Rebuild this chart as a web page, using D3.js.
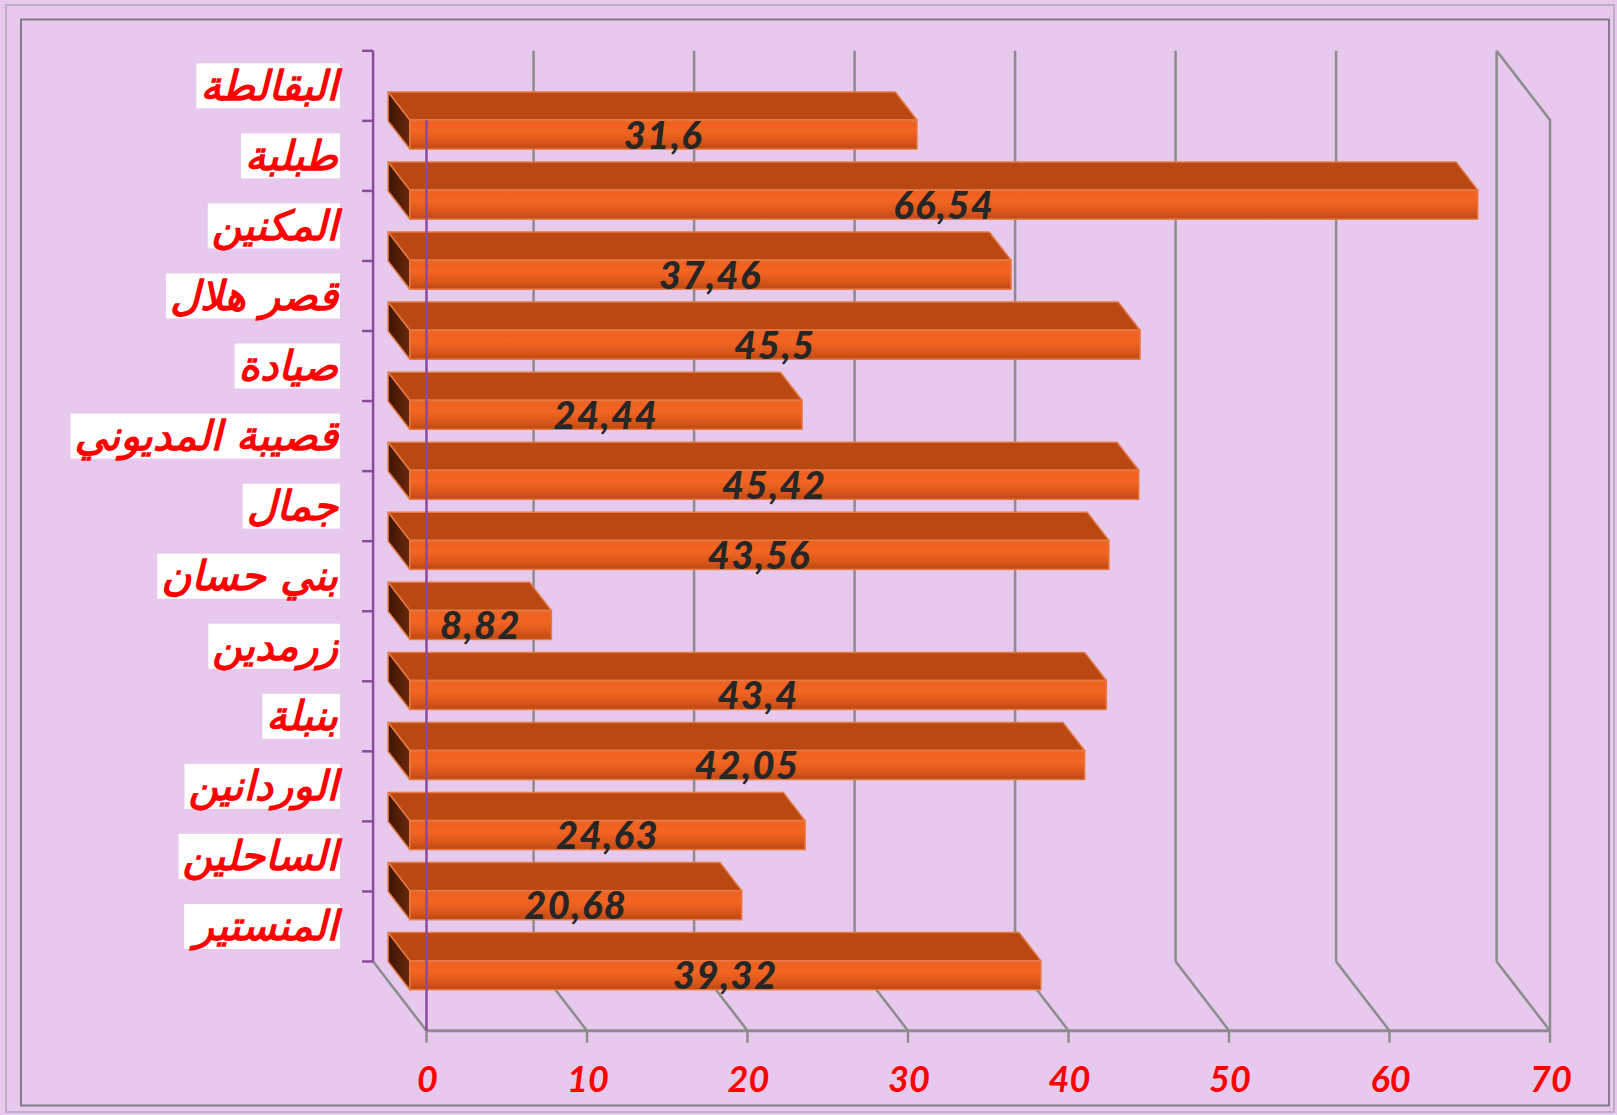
<!DOCTYPE html>
<html>
<head>
<meta charset="utf-8">
<script src="https://cdn.jsdelivr.net/npm/d3@7"></script>
<style>
  html, body { margin: 0; padding: 0; background: #E6C9EC; }
  svg { display: block; }
</style>
</head>
<body>
<svg id="chart" width="1617" height="1115"></svg>
<script>
// ---- data ----
const categories = ["البقالطة", "طبلبة", "المكنين", "قصر هلال", "صيادة", "قصيبة المديوني", "جمال", "بني حسان", "زرمدين", "بنبلة", "الوردانين", "الساحلين", "المنستير"];
const values = [31.6, 66.54, 37.46, 45.5, 24.44, 45.42, 43.56, 8.82, 43.4, 42.05, 24.63, 20.68, 39.32];
const xTicks = [0, 10, 20, 30, 40, 50, 60, 70];
const xTickLabels = ["0", "10", "20", "30", "40", "50", "60", "70"];

// ---- layout ----
const W = 1617, H = 1115;
const svg = d3.select("#chart");
const DX = -53.4, DY = -69.2;           // depth offset (front -> back)
const D1 = 0.313, D2 = 0.719;           // bar depth range
const x = d3.scaleLinear().domain([0, 70]).range([426.5, 1550]);
const y = d3.scaleBand().domain(categories).range([120, 1030.7]).paddingInner(0).paddingOuter(0);
const bw = y.bandwidth();
const barOff = 0.31 * bw, barH = 0.414 * bw;
const P = (v, yc, d) => [x(v) + DX * d, yc + DY * d];
const yTop = y.range()[0], yBot = y.range()[1];

const defs = svg.append("defs");
const gFront = defs.append("linearGradient").attr("id", "gFront").attr("x1", 0).attr("y1", 0).attr("x2", 0).attr("y2", 1);
[[0, "#e86a30"], [0.12, "#f06120"], [0.4, "#f26522"], [0.75, "#d9561b"], [1, "#bd4712"]].forEach(([o, c]) =>
  gFront.append("stop").attr("offset", o).attr("stop-color", c));
const gEnd = defs.append("linearGradient").attr("id", "gEnd").attr("x1", 0).attr("y1", 0).attr("x2", 1).attr("y2", 0);
[[0, "#3f1404"], [1, "#6a280b"]].forEach(([o, c]) => gEnd.append("stop").attr("offset", o).attr("stop-color", c));

// background + frames
svg.append("rect").attr("x", 0).attr("y", 0).attr("width", W).attr("height", H).attr("fill", "#E6C9EC");
svg.append("rect").attr("x", 6).attr("y", 5).attr("width", 1608).attr("height", 1107)
  .attr("fill", "none").attr("stroke", "#b0a6b4").attr("stroke-width", 1.5);
svg.append("rect").attr("x", 21).attr("y", 19.5).attr("width", 1588).attr("height", 1086)
  .attr("fill", "none").attr("stroke", "#857a8c").attr("stroke-width", 2);

const grid = "#8c8c8c";
const line = d3.line();
// back-wall gridlines
xTicks.filter(v => v > 0).forEach(v => {
  svg.append("path").attr("d", line([P(v, yTop, 1), P(v, yBot, 1)]))
    .attr("stroke", grid).attr("stroke-width", 2.5).attr("fill", "none");
});
// floor diagonals
xTicks.forEach(v => {
  svg.append("path").attr("d", line([P(v, yBot, 1), P(v, yBot, 0)]))
    .attr("stroke", grid).attr("stroke-width", 2.5).attr("fill", "none");
});
// right side edge
svg.append("path").attr("d", line([P(70, yTop, 1), P(70, yTop, 0), P(70, yBot, 0)]))
  .attr("stroke", grid).attr("stroke-width", 2.5).attr("fill", "none");
// front baseline + ticks
svg.append("path").attr("d", line([P(0, yBot, 0), P(70, yBot, 0)]))
  .attr("stroke", grid).attr("stroke-width", 3).attr("fill", "none");
xTicks.forEach(v => {
  svg.append("path").attr("d", line([[x(v), yBot], [x(v), yBot + 12]]))
    .attr("stroke", grid).attr("stroke-width", 2.5).attr("fill", "none");
});

// back vertical axis (purple) with category ticks
const purple = "#8a4a9e";
svg.append("path").attr("d", line([P(0, yTop, 1), P(0, yBot, 1)]))
  .attr("stroke", purple).attr("stroke-width", 2.5).attr("fill", "none");
const bounds = categories.map(c => y(c)).concat([yBot]);
bounds.forEach(b => {
  const p = P(0, b, 1);
  svg.append("path").attr("d", line([[p[0] - 11, p[1]], p]))
    .attr("stroke", purple).attr("stroke-width", 2.5).attr("fill", "none");
});

// bars
const stroke = "#e77a42";
categories.forEach((c, i) => {
  const v = values[i];
  const yf = y(c) + barOff;
  const g = svg.append("g");
  // top face
  g.append("path").attr("d", line([P(0, yf, D2), P(v, yf, D2), P(v, yf, D1), P(0, yf, D1)]) + "Z")
    .attr("fill", "#b94812").attr("stroke", stroke).attr("stroke-width", 1.5).attr("stroke-linejoin", "round");
  // left end face
  g.append("path").attr("d", line([P(0, yf, D2), P(0, yf, D1), P(0, yf + barH, D1), P(0, yf + barH, D2)]) + "Z")
    .attr("fill", "url(#gEnd)").attr("stroke", stroke).attr("stroke-width", 1.5).attr("stroke-linejoin", "round");
  // front face
  const a = P(0, yf, D1), b = P(v, yf + barH, D1);
  g.append("rect").attr("x", a[0]).attr("y", a[1]).attr("width", b[0] - a[0]).attr("height", b[1] - a[1])
    .attr("fill", "url(#gFront)").attr("stroke", stroke).attr("stroke-width", 1.5);
});

// front vertical axis (purple)
svg.append("path").attr("d", line([P(0, yTop, 0), P(0, yBot, 0)]))
  .attr("stroke", purple).attr("stroke-width", 2.5).attr("fill", "none");

// value labels
categories.forEach((c, i) => {
  const v = values[i];
  const yf = y(c) + barOff;
  const l = P(0, yf + barH, D1), r = P(v, yf + barH, D1);
  svg.append("text").attr("x", (l[0] + r[0]) / 2).attr("y", l[1] - 0.5)
    .attr("text-anchor", "middle")
    .attr("font-family", "Lato, 'Open Sans', sans-serif").attr("font-weight", 900).attr("font-style", "italic")
    .attr("font-size", 38).attr("letter-spacing", 1.5).attr("fill", "#262626")
    .text(String(v).replace(".", ","));
});

// category labels with white boxes
categories.forEach((c, i) => {
  const cy = y(c) + DY + bw / 2;
  const g = svg.append("g");
  const t = g.append("text").attr("x", 338).attr("y", cy + 14)
    .attr("text-anchor", "end")
    .attr("font-family", "'DejaVu Sans', sans-serif").attr("font-weight", "bold").attr("font-style", "italic")
    .attr("font-size", 41).attr("fill", "#ff0000")
    .text(c);
  const bb = t.node().getBBox();
  g.insert("rect", "text").attr("x", bb.x - 4).attr("y", cy - 22.5).attr("width", 340 - (bb.x - 4)).attr("height", 45)
    .attr("fill", "#ffffff");
});

// x-axis labels
xTicks.forEach((v, i) => {
  svg.append("text").attr("x", x(v) + 1).attr("y", 1091.5)
    .attr("text-anchor", "middle")
    .attr("font-family", "Lato, 'Open Sans', sans-serif").attr("font-weight", "bold").attr("font-style", "italic")
    .attr("font-size", 36).attr("fill", "#ff0000")
    .text(xTickLabels[i]);
});
</script>
</body>
</html>
